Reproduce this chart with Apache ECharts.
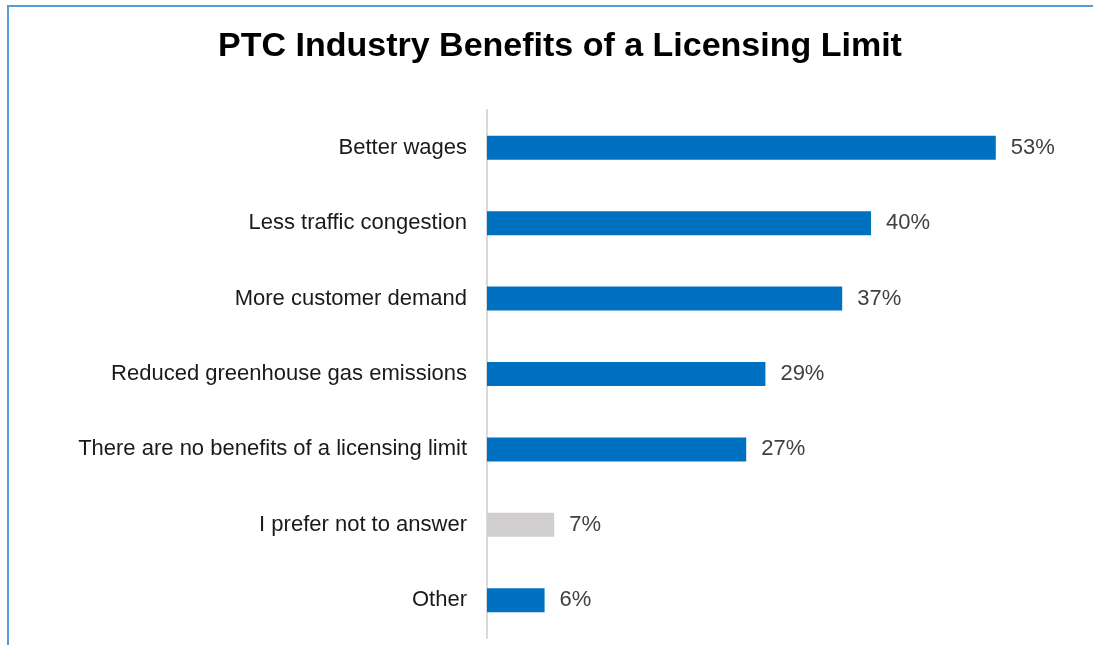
<!DOCTYPE html>
<html>
<head>
<meta charset="utf-8">
<script src="https://cdn.jsdelivr.net/npm/echarts@6/dist/echarts.min.js"></script>
<style>
  html, body { margin: 0; padding: 0; background: #ffffff; }
  #chart { width: 1093px; height: 645px; }
</style>
</head>
<body>
<div id="chart"></div>
<script>
// Survey answers, top to bottom
const categories = [
  'Better wages',
  'Less traffic congestion',
  'More customer demand',
  'Reduced greenhouse gas emissions',
  'There are no benefits of a licensing limit',
  'I prefer not to answer',
  'Other'
];
const shares = [53, 40, 37, 29, 27, 7, 6];
const neutralAnswer = 'I prefer not to answer';

const BLUE = '#0070C0';
const GREY = '#D0CECE';
const FONT = 'Liberation Sans, Arial, sans-serif';

const chart = echarts.init(document.getElementById('chart'), null, { renderer: 'canvas' });

chart.setOption({
  backgroundColor: '#ffffff',
  animation: false,
  title: {
    text: 'PTC Industry Benefits of a Licensing Limit',
    left: 555,
    top: 25,
    textAlign: 'center',
    textStyle: {
      fontFamily: FONT,
      fontSize: 34,
      fontWeight: 'bold',
      color: '#000000'
    }
  },
  grid: { left: 487, top: 110, width: 576, height: 528, containLabel: false },
  xAxis: {
    type: 'value',
    min: 0,
    max: 60,
    show: false
  },
  yAxis: {
    type: 'category',
    data: categories,
    inverse: true,
    axisLine: { show: true, lineStyle: { color: '#D9D9D9', width: 2 } },
    axisTick: { show: false },
    axisLabel: {
      margin: 20,
      padding: [5, 0, 0, 0],
      fontFamily: FONT,
      fontSize: 22,
      color: '#1a1a1a'
    }
  },
  series: [{
    type: 'bar',
    barWidth: 24,
    data: shares.map((v, i) => ({
      value: v,
      itemStyle: { color: categories[i] === neutralAnswer ? GREY : BLUE }
    })),
    label: {
      show: true,
      position: 'right',
      distance: 15,
      padding: [5, 0, 0, 0],
      formatter: p => p.value + '%',
      fontFamily: FONT,
      fontSize: 22,
      color: '#404040'
    }
  }],
  graphic: [
    // frame edges around the chart area
    { type: 'line', shape: { x1: 8, y1: 6, x2: 1093, y2: 6 }, style: { stroke: '#5B9BD5', lineWidth: 2 } },
    { type: 'line', shape: { x1: 8, y1: 5, x2: 8, y2: 645 }, style: { stroke: '#5B9BD5', lineWidth: 2 } }
  ]
});
</script>
</body>
</html>
